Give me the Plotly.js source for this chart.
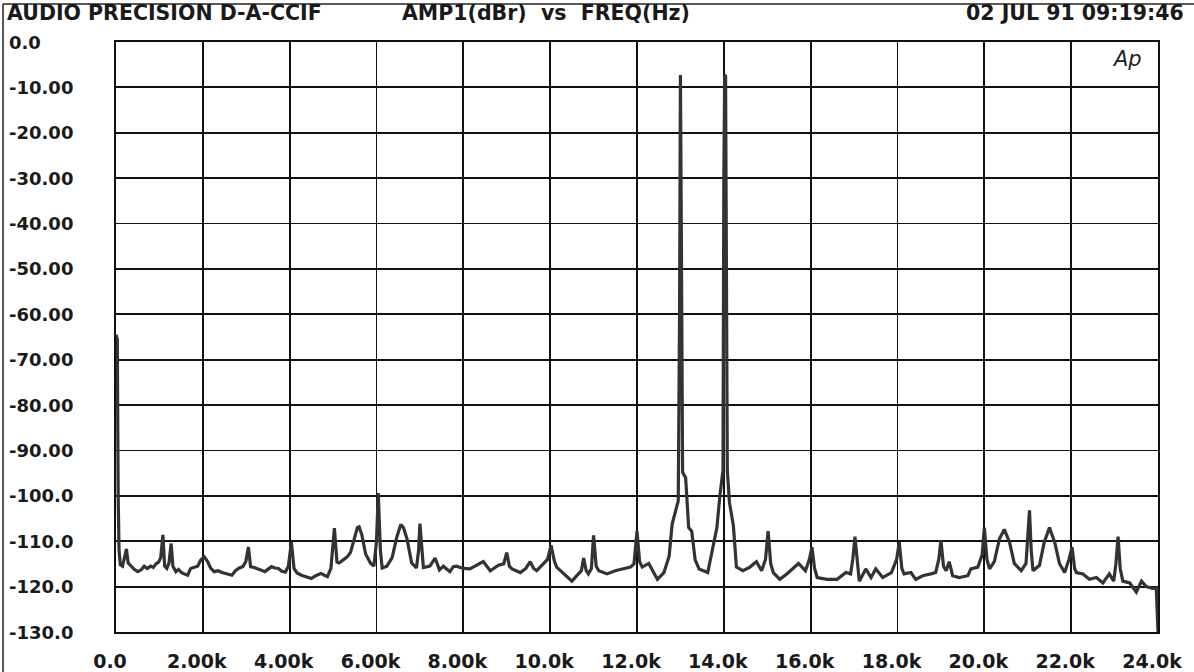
<!DOCTYPE html>
<html>
<head>
<meta charset="utf-8">
<script src="https://cdn.plot.ly/plotly-3.0.1.min.js"></script>
<style>
html,body{margin:0;padding:0;background:#fff;}
#chart{width:1194px;height:672px;}
</style>
</head>
<body>
<div id="chart"></div>
<script>
// Frequency (Hz) and amplitude (dBr)
const freqHz = [
  0, 30, 50, 70, 100, 150, 210, 240, 280, 340, 420, 500, 580, 650, 720, 800, 860, 920, 980, 1030,
  1080, 1120, 1170, 1220, 1270, 1310, 1380, 1440, 1520, 1600, 1650, 1720, 1800, 1880, 1950, 2030, 2110, 2180, 2260, 2350,
  2440, 2520, 2600, 2670, 2750, 2840, 2920, 2990, 3050, 3100, 3180, 3270, 3350, 3430, 3500, 3580, 3660, 3740, 3820, 3900,
  3970, 4040, 4100, 4170, 4270, 4380, 4500, 4600, 4720, 4800, 4870, 4950, 5030, 5090, 5140, 5250, 5330, 5400, 5480, 5560,
  5600, 5660, 5750, 5860, 5940, 6000, 6040, 6090, 6130, 6240, 6360, 6470, 6560, 6620, 6700, 6810, 6920, 6970, 7000, 7050,
  7080, 7230, 7350, 7450, 7540, 7690, 7770, 7840, 8000, 8150, 8310, 8460, 8620, 8810, 8930, 9000, 9060, 9120, 9310, 9440,
  9540, 9620, 9690, 9850, 9940, 10020, 10100, 10150, 10310, 10500, 10650, 10720, 10770, 10830, 10880, 10950, 11000, 11060, 11120, 11310,
  11500, 11690, 11850, 11930, 12000, 12060, 12120, 12270, 12390, 12470, 12620, 12740, 12810, 12890, 12950, 12980, 13000, 13020, 13050, 13120,
  13190, 13260, 13340, 13430, 13630, 13740, 13840, 13910, 13980, 14000, 14020, 14040, 14060, 14080, 14130, 14220, 14290, 14440, 14600, 14750,
  14870, 14960, 15020, 15080, 15140, 15290, 15450, 15570, 15720, 15880, 15970, 16030, 16090, 16150, 16380, 16610, 16810, 16920, 16970, 17020,
  17080, 17120, 17270, 17390, 17500, 17660, 17860, 17980, 18040, 18100, 18150, 18310, 18420, 18580, 18770, 18880, 18950, 19000, 19060, 19120,
  19190, 19270, 19420, 19620, 19690, 19850, 19950, 20000, 20060, 20120, 20230, 20350, 20460, 20580, 20690, 20850, 20960, 21000, 21040, 21080,
  21120, 21270, 21380, 21500, 21620, 21730, 21850, 21950, 22020, 22080, 22120, 22270, 22420, 22580, 22730, 22880, 22980, 23030, 23080, 23130,
  23190, 23350, 23500, 23620, 23730, 23880, 23960, 24000
];
const ampDbr = [
  -64.5, -65.5, -100, -112, -115.2, -115.5, -113, -111.7, -114.8, -115.5, -116.2, -116.7, -116.3, -115.5, -116, -115.5, -115.8, -115, -114.6, -113.6,
  -108.6, -115.5, -116, -114.8, -110.5, -115.5, -116.7, -116.2, -117, -117.3, -117.5, -116, -115.8, -115.5, -114.2, -113.4, -114.5, -115.9, -116.7, -116.5,
  -116.9, -117.1, -117.4, -117.5, -116.5, -115.9, -115.6, -114.5, -111.3, -115.6, -115.8, -116.2, -116.4, -116.7, -116.2, -115.6, -115.9, -116, -116.6, -116.8,
  -115.5, -110.2, -116, -117, -117.5, -117.8, -118.2, -117.6, -117.1, -117.5, -117.8, -116, -107.1, -114.6, -114.8, -114, -113.4, -112.5, -109.5, -107,
  -106.8, -108.5, -112.8, -114.8, -115.5, -110, -99.4, -112, -115.9, -115.5, -113.6, -109, -106.3, -107, -109.4, -114.8, -115.9, -112, -106.1, -112,
  -115.8, -115.5, -113.7, -116.3, -115.5, -116.7, -115.6, -115.5, -116, -116.1, -115.3, -114.5, -116.5, -115.3, -115, -112.5, -115.5, -116.1, -116.9, -116,
  -114.5, -116, -116.5, -114.9, -114, -110.9, -114.5, -115.7, -117.2, -118.8, -117.2, -116.5, -113.7, -116.5, -117.2, -116, -108.7, -115.5, -116.5, -117.2,
  -116.5, -116.1, -115.7, -115, -107.8, -114.5, -115.7, -114.9, -116.9, -118.4, -116.9, -113.3, -106.2, -103.1, -101.1, -60, -7.3, -40, -94.8, -96,
  -107, -107.8, -114.1, -116.1, -116.9, -111.7, -107, -99.9, -94.4, -30, -7.3, -7.5, -40, -94.4, -101.5, -106.6, -115.7, -116.5, -115.7, -114.5,
  -116.5, -114, -107.8, -115, -116.9, -118.4, -117.2, -116.1, -114.9, -116.5, -114, -111.3, -116, -118, -118.4, -118.4, -116.9, -117.2, -114, -109,
  -116, -118.8, -116.1, -118, -116.1, -118, -116.9, -114, -110.2, -116, -117.2, -116.9, -118.4, -117.6, -117.2, -116.9, -114, -109.8, -115.5, -116.5,
  -114.5, -117.6, -118, -117.6, -116.1, -115.7, -113, -107, -114, -116.1, -114.5, -109.4, -107.4, -110.2, -114.9, -116.5, -114.9, -108, -103.2, -112,
  -116.5, -115.3, -110.2, -107, -110.2, -114.9, -116.9, -114, -111.3, -116, -116.9, -117.2, -118.4, -118, -119.2, -117.2, -118.8, -115, -109, -116,
  -118.8, -119.2, -121.2, -118.8, -120, -120.4, -120.4, -130
];

const xTickVals = [0, 2000, 4000, 6000, 8000, 10000, 12000, 14000, 16000, 18000, 20000, 22000, 24000];
const xTickText = ["0.0", "2.00k", "4.00k", "6.00k", "8.00k", "10.0k", "12.0k", "14.0k", "16.0k", "18.0k", "20.0k", "22.0k", "24.0k"];
const yTickVals = [0, -10, -20, -30, -40, -50, -60, -70, -80, -90, -100, -110, -120, -130];
const yTickText = ["0.0", "-10.00", "-20.00", "-30.00", "-40.00", "-50.00", "-60.00", "-70.00", "-80.00", "-90.00", "-100.0", "-110.0", "-120.0", "-130.0"];

const titleLeft = "AUDIO PRECISION D-A-CCIF";
const titleMid = "AMP1(dBr)\u00a0\u00a0vs\u00a0\u00a0FREQ(Hz)";
const titleRight = "02 JUL 91 09:19:46";

const W = 1194, H = 672;
const L = 116, R = 36, T = 42, B = 40;
const pw = W - L - R, ph = H - T - B;
const px2x = p => (p - L) / pw;
const py2y = p => 1 - (p - T) / ph;

const headFont = {family: "DejaVu Sans", size: 20.5, color: "#1a1a1a", weight: "bold"};
const yFont = {family: "DejaVu Sans", size: 18, color: "#1a1a1a", weight: "bold"};
const xFont = {family: "DejaVu Sans", size: 19, color: "#1a1a1a", weight: "bold"};

const annotations = yTickVals.map((v, i) => ({
  xref: "paper", yref: "y", x: px2x(7), y: v, xanchor: "left", yanchor: "middle",
  text: yTickText[i], showarrow: false, font: yFont
}));
annotations.push({
  xref: "paper", yref: "paper", x: px2x(400), y: py2y(13), xanchor: "left", yanchor: "middle",
  text: titleMid, showarrow: false, font: headFont
});
annotations.push({
  xref: "paper", yref: "paper", x: px2x(1186), y: py2y(13), xanchor: "right", yanchor: "middle",
  text: titleRight, showarrow: false, font: headFont
});
annotations.push({
  xref: "paper", yref: "paper", x: px2x(1127), y: py2y(59), xanchor: "center", yanchor: "middle",
  text: "Ap", showarrow: false, font: {family: "DejaVu Sans", size: 21, color: "#222", style: "italic"}
});

const trace = {
  x: freqHz, y: ampDbr, type: "scatter", mode: "lines",
  line: {color: "#333333", width: 3.2}, hoverinfo: "skip"
};

const layout = {
  width: W, height: H,
  margin: {l: L, r: R, t: T, b: B, pad: 0},
  paper_bgcolor: "#ffffff", plot_bgcolor: "#ffffff",
  showlegend: false,
  title: {
    text: titleLeft, xref: "container", yref: "container",
    x: 7 / W, xanchor: "left", y: 1 - 13 / H, yanchor: "middle",
    font: headFont
  },
  xaxis: {
    range: [0, 24000], tickvals: xTickVals, ticktext: xTickText,
    showgrid: true, gridcolor: "#111", gridwidth: 1.8, zeroline: false,
    showline: true, mirror: true, linecolor: "#111", linewidth: 2.2,
    ticks: "", ticklabelstandoff: 11, ticklabelshift: -6, tickfont: xFont, fixedrange: true
  },
  yaxis: {
    range: [-130, 0], tickvals: yTickVals, showticklabels: false,
    showgrid: true, gridcolor: "#111", gridwidth: 1.8, zeroline: false,
    showline: true, mirror: true, linecolor: "#111", linewidth: 2.2,
    ticks: "", fixedrange: true
  },
  annotations: annotations,
  shapes: [
    {type: "line", xref: "paper", yref: "paper", x0: px2x(3), x1: px2x(1194), y0: py2y(4), y1: py2y(4), line: {color: "#222", width: 1.5}},
    {type: "line", xref: "paper", yref: "paper", x0: px2x(3), x1: px2x(3), y0: py2y(4), y1: py2y(672), line: {color: "#222", width: 1.5}}
  ]
};

Plotly.newPlot("chart", [trace], layout, {displayModeBar: false, staticPlot: true});
</script>
</body>
</html>
